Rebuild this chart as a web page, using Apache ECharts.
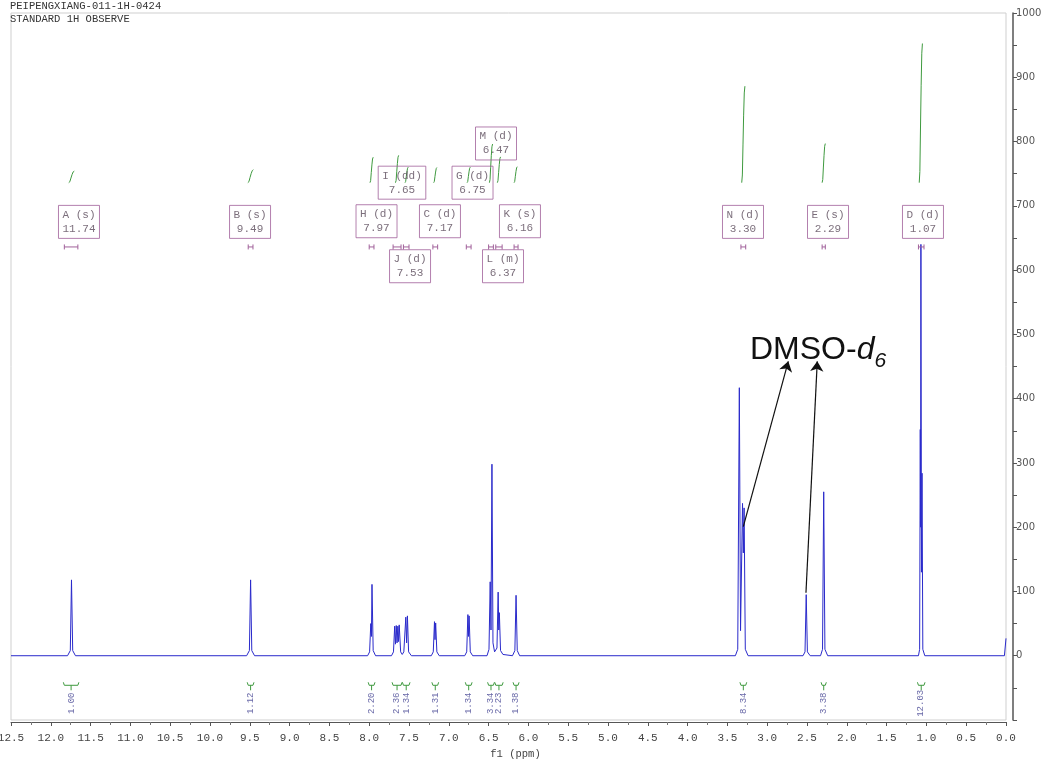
<!DOCTYPE html>
<html><head><meta charset="utf-8">
<script src="https://cdn.jsdelivr.net/npm/echarts@6/dist/echarts.min.js"></script>
<style>html,body{margin:0;padding:0;background:#fff}#c{width:1048px;height:761px}</style>
</head><body><div id="c"></div>
<script>
// ---- spectrum trace: [ppm, intensity] ----
const spectrum = [
 [12.5,0],[11.79,0],[11.755,8],[11.74,118],[11.725,8],[11.69,0],
 [9.54,0],[9.505,8],[9.49,118],[9.475,8],[9.44,0],
 [8.02,0],[7.995,6],[7.98,50],[7.972,30],[7.965,111],[7.95,8],[7.92,0],
 [7.72,0],[7.695,6],[7.68,46],[7.67,18],[7.66,47],[7.65,20],[7.64,46],[7.632,22],[7.623,48],[7.605,6],[7.585,2],
 [7.565,6],[7.54,60],[7.53,20],[7.52,62],[7.505,6],[7.47,0],
 [7.22,0],[7.195,6],[7.18,53],[7.173,25],[7.165,51],[7.15,6],[7.12,0],
 [6.80,0],[6.775,6],[6.76,64],[6.753,30],[6.745,62],[6.73,6],[6.70,0],
 [6.52,0],[6.495,10],[6.48,115],[6.47,40],[6.458,298],[6.445,20],[6.425,6],[6.41,5],[6.395,12],[6.38,99],[6.372,40],[6.365,67],[6.35,8],[6.32,2],
 [6.20,0],[6.17,8],[6.155,94],[6.14,8],[6.11,0],
 [3.40,0],[3.37,10],[3.35,417],[3.335,39],[3.31,237],[3.30,160],[3.29,230],[3.275,10],[3.24,0],
 [2.55,0],[2.525,6],[2.51,95],[2.495,6],[2.46,0],
 [2.33,0],[2.305,10],[2.29,255],[2.275,10],[2.24,0],
 [1.10,0],[1.085,10],[1.077,352],[1.073,200],[1.069,640],[1.062,130],[1.055,284],[1.045,10],[1.02,0],
 [0.02,0],[0.005,0],[0.0,27]
];

// ---- multiplets ----
const multNames  = ['A','B','H','I','J','C','G','M','L','K','N','E','D'];
const multTypes  = ['s','s','d','dd','d','d','d','d','m','s','d','s','d'];
const multShifts = ['11.74','9.49','7.97','7.65','7.53','7.17','6.75','6.47','6.37','6.16','3.30','2.29','1.07'];
const rangeHi    = [11.83, 9.52, 8.00, 7.70, 7.57, 7.20, 6.78, 6.50, 6.41, 6.18, 3.33, 2.31, 1.10];
const rangeLo    = [11.66, 9.46, 7.94, 7.60, 7.50, 7.14, 6.72, 6.44, 6.33, 6.13, 3.27, 2.27, 1.03];
const integrals  = ['1.00','1.12','2.20','2.36','1.34','1.31','1.34','3.34','2.23','1.38','8.34','3.38','12.03'];

// ---- axis ticks ----
const ppmMin = 0, ppmMax = 12.5, ppmStep = 0.5;
const intMin = -100, intMax = 1000, intStep = 100;

// ---- annotation layout (positions in data space, not data) ----
const boxPpm = [11.646, 9.497, 7.908, 7.588, 7.487, 7.111, 6.702, 6.407, 6.319, 6.106, 3.304, 2.236, 1.043];
const boxVal = [675, 675, 676, 736, 606, 676, 736, 797, 606, 676, 675, 675, 675];
const rangeMarkVal = 636;
const bracketVal = -46;
const intLabelVal = -74;
const intCurveBase = 736;
const intCurveScale = 18;
const dmsoArrows = [[[3.30,201],[2.735,458]], [[2.513,98],[2.371,458]]];

const mono = 'Liberation Mono';
const chart = echarts.init(document.getElementById('c'), null, {renderer:'canvas'});

const purple = '#a0609a', green = '#3f9a3f';

function rangeMark(params, api){
  const a = api.coord([api.value(0), api.value(2)]);
  const b = api.coord([api.value(1), api.value(2)]);
  const s = {stroke: purple, lineWidth: 1, fill: null};
  return {type:'group', children:[
    {type:'line', shape:{x1:a[0],y1:a[1],x2:b[0],y2:b[1]}, style:s},
    {type:'line', shape:{x1:a[0],y1:a[1]-2.5,x2:a[0],y2:a[1]+2.5}, style:s},
    {type:'line', shape:{x1:b[0],y1:b[1]-2.5,x2:b[0],y2:b[1]+2.5}, style:s}
  ]};
}
function bracketMark(params, api){
  const a = api.coord([api.value(0), api.value(2)]);
  const b = api.coord([api.value(1), api.value(2)]);
  const m = (a[0]+b[0])/2;
  const s = {stroke: green, lineWidth: 1, fill: null};
  return {type:'group', children:[
    {type:'line', shape:{x1:a[0],y1:a[1],x2:b[0],y2:b[1]}, style:s},
    {type:'line', shape:{x1:a[0],y1:a[1],x2:a[0]-1,y2:a[1]-3}, style:s},
    {type:'line', shape:{x1:b[0],y1:b[1],x2:b[0]+1,y2:b[1]-3}, style:s},
    {type:'line', shape:{x1:m,y1:a[1],x2:m,y2:a[1]+5}, style:s}
  ]};
}
function intCurve(params, api){
  const c = api.value(0), h = api.value(1)*intCurveScale, w = api.value(2);
  const pts = [[c+w,0],[c+0.6*w,0.08*h],[c+0.2*w,0.4*h],[c-0.2*w,0.7*h],[c-0.6*w,0.93*h],[c-w,h]]
    .map(p => api.coord([p[0], intCurveBase + p[1]]));
  return {type:'polyline', shape:{points:pts}, style:{stroke: green, lineWidth:1, fill:null}};
}

const idx = multNames.map((_, i) => i);

chart.setOption({
  animation: false,
  backgroundColor: '#fff',
  grid: {left: 11, right: 42, top: 13, bottom: 41, show: true, borderColor: '#cfcfcf', borderWidth: 1,
         outerBoundsMode: 'none', containLabel: false},
  xAxis: {
    type: 'value', inverse: true, min: ppmMin, max: ppmMax, interval: ppmStep,
    position: 'bottom', offset: 2,
    name: 'f1 (ppm)', nameLocation: 'middle', nameGap: 26,
    nameTextStyle: {fontFamily: mono, fontSize: 10.5, color: '#444', padding: [0,0,0,14]},
    axisLine: {show: true, onZero: false, lineStyle: {color: '#555', width: 1}},
    axisTick: {show: true, length: 4, lineStyle: {color: '#555'}},
    minorTick: {show: true, splitNumber: 2, length: 3, lineStyle: {color: '#777'}},
    axisLabel: {fontFamily: mono, fontSize: 11, color: '#444', margin: 11, formatter: v => v.toFixed(1)},
    splitLine: {show: false}
  },
  yAxis: {
    type: 'value', min: intMin, max: intMax, interval: intStep, position: 'right', offset: 7,
    axisLine: {show: true, onZero: false, lineStyle: {color: '#555', width: 1.5}},
    axisTick: {show: true, length: 4, lineStyle: {color: '#555'}},
    minorTick: {show: true, splitNumber: 2, length: 4, lineStyle: {color: '#555'}},
    axisLabel: {fontFamily: 'DejaVu Sans', fontSize: 10, color: '#555', margin: 3,
      formatter: v => v < 0 ? '' : String(v)},
    splitLine: {show: false}
  },
  series: [
    {type: 'line', data: spectrum, showSymbol: false, symbol: 'none', sampling: 'none',
     lineStyle: {color: '#2a2acb', width: 1}, z: 3},
    {type: 'custom', renderItem: rangeMark, clip: false,
     data: idx.map(i => [rangeHi[i], rangeLo[i], rangeMarkVal]), z: 4},
    {type: 'custom', renderItem: bracketMark, clip: false,
     data: idx.map(i => [rangeHi[i], rangeLo[i], bracketVal]), z: 4},
    {type: 'custom', renderItem: intCurve, clip: false,
     data: idx.map(i => [parseFloat(multShifts[i]), parseFloat(integrals[i]), i < 2 ? 0.035 : 0.02]), z: 4},
    {type: 'scatter', symbolSize: 0, z: 5,
     data: idx.map(i => ({value: [boxPpm[i], boxVal[i]], name: multNames[i] + ' (' + multTypes[i] + ')\n' + multShifts[i]})),
     label: {show: true, position: 'inside', formatter: p => p.name, fontFamily: mono, fontSize: 11,
       lineHeight: 14, color: '#5a4a5a', borderColor: purple, borderWidth: 1, padding: [3, 4, 2, 4], align: 'center'}},
    {type: 'scatter', symbolSize: 0, z: 5,
     data: idx.map(i => ({value: [parseFloat(multShifts[i]), intLabelVal], name: integrals[i]})),
     label: {show: true, position: 'inside', rotate: 90, formatter: p => p.name, fontFamily: mono,
       fontSize: 9, color: '#3d3d8f'}},
    {type: 'lines', coordinateSystem: 'cartesian2d', z: 6,
     symbol: ['none', 'arrow'], symbolSize: [7, 10],
     lineStyle: {color: '#111', width: 1.2, opacity: 1},
     data: dmsoArrows.map(c => ({coords: c}))}
  ],
  graphic: [
    {type: 'text', left: 10, top: 0, style: {text: 'PEIPENGXIANG-011-1H-0424\nSTANDARD 1H OBSERVE',
      font: '10.5px "Liberation Mono"', fill: '#333', lineHeight: 13}},
    {type: 'text', left: 750, top: 334, z: 10, style: {
      text: '{a|DMSO-}{b|d}{c|6}',
      rich: {
        a: {fontFamily: 'Liberation Sans', fontSize: 32, lineHeight: 32, verticalAlign: 'top', fill: '#111'},
        b: {fontFamily: 'Liberation Sans', fontSize: 32, fontStyle: 'italic', lineHeight: 32, verticalAlign: 'top', fill: '#111'},
        c: {fontFamily: 'Liberation Sans', fontSize: 21, fontStyle: 'italic', lineHeight: 21, padding: [17,0,0,0], verticalAlign: 'top', fill: '#111'}
      }}}
  ]
});
</script></body></html>
